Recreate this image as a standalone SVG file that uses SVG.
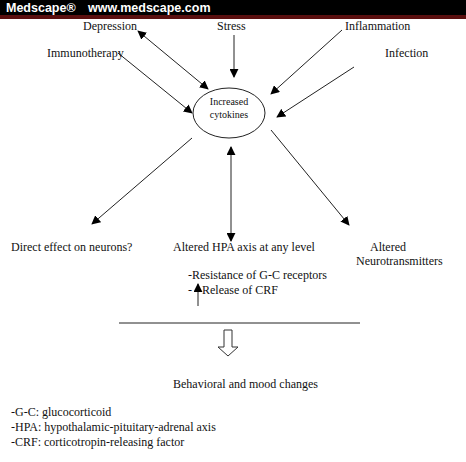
<svg xmlns="http://www.w3.org/2000/svg" width="466" height="462" viewBox="0 0 466 462">
<defs>
<style>
.t{font-family:"Liberation Serif","Times New Roman",serif;font-size:12px;fill:#111}
.s{font-family:"Liberation Serif","Times New Roman",serif;font-size:10px;fill:#111}
.h{font-family:"Liberation Sans",Arial,sans-serif;font-size:12.5px;font-weight:bold;fill:#fff}
.c{stroke:#222;stroke-width:1;fill:none}
</style>
<marker id="ah" viewBox="0 0 10 10" refX="9" refY="5" markerWidth="9" markerHeight="9" markerUnits="userSpaceOnUse" orient="auto-start-reverse">
<path d="M0,0 L10,5 L0,10 z" fill="#000"/>
</marker>
</defs>
<rect width="466" height="462" fill="#fff"/>
<g id="header">
<rect x="0" y="0" width="466" height="15" fill="#000"/>
<rect x="0" y="15" width="466" height="4" fill="#5a0f0f"/>
<text class="h" x="6" y="12">Medscape®</text>
<text class="h" x="88" y="12">www.medscape.com</text>
</g>
<g id="connectors">
<line class="c" x1="138" y1="31" x2="208" y2="89" marker-start="url(#ah)" marker-end="url(#ah)"/>
<line class="c" x1="118" y1="53" x2="192" y2="113" marker-end="url(#ah)"/>
<line class="c" x1="234" y1="35" x2="234" y2="77" marker-end="url(#ah)"/>
<line class="c" x1="342" y1="30" x2="271" y2="94" marker-end="url(#ah)"/>
<line class="c" x1="354" y1="67" x2="277" y2="117" marker-end="url(#ah)"/>
<line class="c" x1="192" y1="138" x2="92" y2="224" marker-end="url(#ah)"/>
<line class="c" x1="231" y1="147" x2="231" y2="241" marker-start="url(#ah)" marker-end="url(#ah)"/>
<line class="c" x1="271" y1="130" x2="349" y2="225" marker-end="url(#ah)"/>
<line class="c" x1="198" y1="306" x2="198" y2="284" marker-end="url(#ah)"/>
<line class="c" x1="119" y1="323" x2="360" y2="323"/>
<path d="M224,330 H232 V347 H238 L228,356 L218,347 H224 Z" fill="#fff" stroke="#333" stroke-width="1"/>
</g>
<g id="cytokines">
<ellipse cx="229" cy="113" rx="36" ry="25" class="c"/>
<text class="s" x="229" y="105" text-anchor="middle">Increased</text>
<text class="s" x="229" y="118" text-anchor="middle">cytokines</text>
</g>
<g id="depression"><text class="t" x="83" y="30">Depression</text></g>
<g id="stress"><text class="t" x="217" y="30">Stress</text></g>
<g id="inflammation"><text class="t" x="345" y="30">Inflammation</text></g>
<g id="immunotherapy"><text class="t" x="47" y="57">Immunotherapy</text></g>
<g id="infection"><text class="t" x="385" y="57">Infection</text></g>
<g id="direct"><text class="t" x="11" y="251">Direct effect on neurons?</text></g>
<g id="hpa">
<text class="t" x="173" y="251">Altered HPA axis at any level</text>
<text class="t" x="188" y="279">-Resistance of G-C receptors</text>
<text class="t" x="188" y="294">- </text>
<text class="t" x="202" y="294">Release of CRF</text>
</g>
<g id="neuro">
<text class="t" x="370" y="251">Altered</text>
<text class="t" x="356" y="265">Neurotransmitters</text>
</g>
<g id="behavior"><text class="t" x="173" y="388">Behavioral and mood changes</text></g>
<g id="legend">
<text class="t" x="11" y="416">-G-C: glucocorticoid</text>
<text class="t" x="11" y="431">-HPA: hypothalamic-pituitary-adrenal axis</text>
<text class="t" x="11" y="446">-CRF: corticotropin-releasing factor</text>
</g>
</svg>
